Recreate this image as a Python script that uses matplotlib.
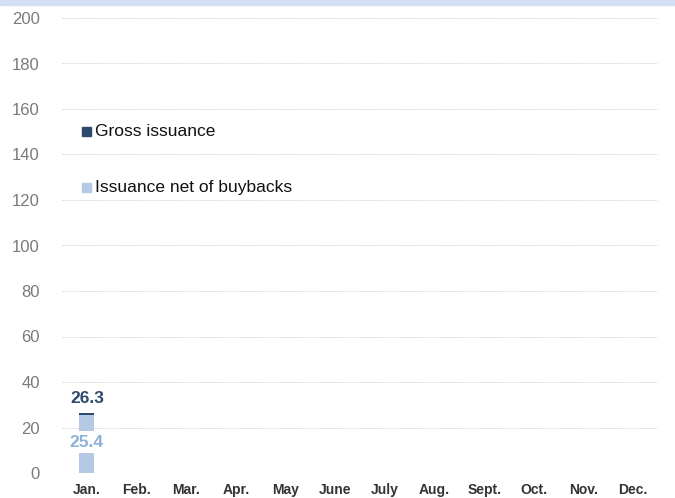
import matplotlib.pyplot as plt
from matplotlib.patches import Rectangle

plt.rcParams['font.family'] = ['Liberation Sans', 'DejaVu Sans']

months = ['Jan.', 'Feb.', 'Mar.', 'Apr.', 'May', 'June', 'July', 'Aug.',
          'Sept.', 'Oct.', 'Nov.', 'Dec.']
gross = [26.3]
net = [25.4]
yticks = [0, 20, 40, 60, 80, 100, 120, 140, 160, 180, 200]

dark = '#2c4a6e'
light = '#b3c9e6'
light_txt = '#8fb0d8'

fig = plt.figure(figsize=(6.75, 4.98), dpi=100)
fig.patches.append(Rectangle((0, 1 - 5 / 498), 1, 5 / 498, transform=fig.transFigure,
                             color='#d3e0f1', zorder=0))
ax = fig.add_axes([62 / 675, 25 / 498, 596 / 675, 455 / 498])

x = list(range(len(gross)))
ax.bar(x, gross, width=0.3, color=dark, zorder=2)
ax.bar(x, net, width=0.3, color=light, zorder=3)

for i in x:
    ax.text(i, gross[i] + 3, f'{gross[i]:.1f}', ha='center', va='bottom',
            fontsize=12.5, fontweight='bold', color=dark, zorder=5)
    ax.text(i, 13.5, f'{net[i]:.1f}', ha='center', va='center',
            fontsize=12.5, fontweight='bold', color=light_txt, zorder=5,
            bbox=dict(facecolor='white', edgecolor='none', pad=2.5))

ax.set_xlim(-0.5, 11.5)
ax.set_ylim(0, 200)
ax.set_yticks(yticks)
ax.set_xticks(range(len(months)))
ax.set_xticklabels(months, fontsize=10, fontweight='bold', color='#333333')
ax.tick_params(axis='y', labelsize=12, colors='#7a7a7a', length=0, pad=16)
ax.tick_params(axis='x', length=0, pad=7)
ax.grid(axis='y', linestyle=(0, (1.5, 1.5)), color='#c8c8c8', linewidth=0.6, zorder=0)
ax.set_axisbelow(True)
for s in ax.spines.values():
    s.set_visible(False)

# legend entries
ax.add_patch(Rectangle((-0.1, 148), 0.18, 4, transform=ax.transData,
                       color=dark, clip_on=False))
ax.text(0.16, 150, 'Gross issuance', fontsize=12.5, va='center', color='#111111')
ax.add_patch(Rectangle((-0.1, 123.5), 0.18, 4, transform=ax.transData,
                       color=light, clip_on=False))
ax.text(0.16, 125.5, 'Issuance net of buybacks', fontsize=12.5, va='center', color='#111111')

fig.savefig('out.png', dpi=100)
